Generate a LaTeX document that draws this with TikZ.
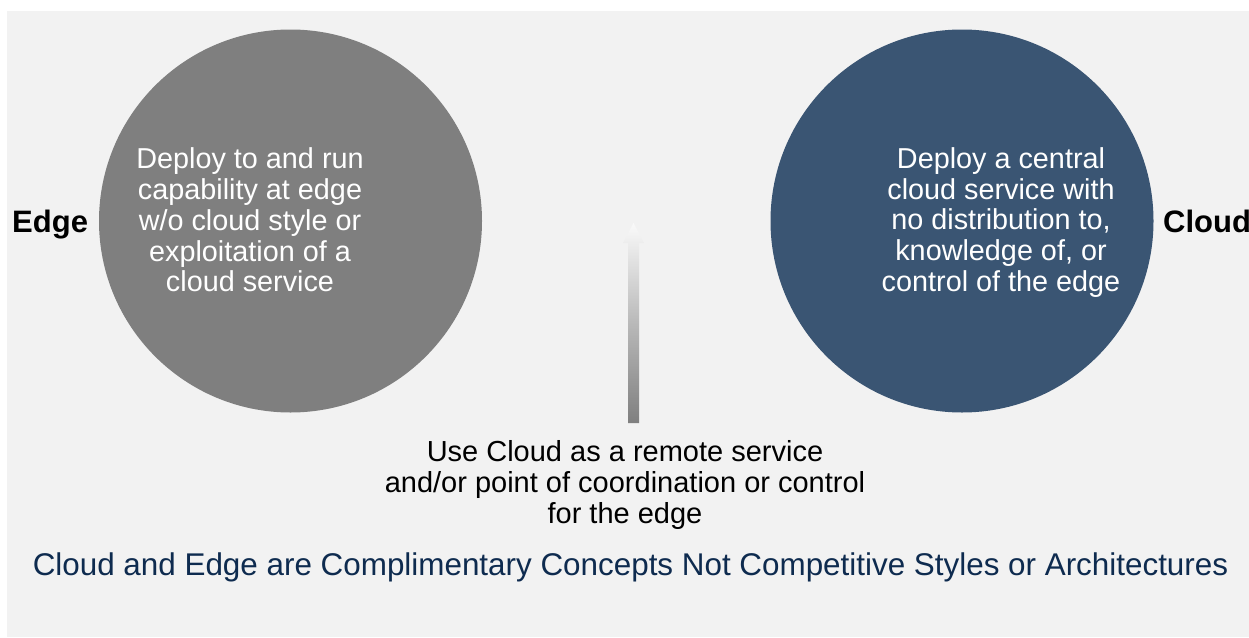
\documentclass[tikz,border=0pt]{standalone}
\usepackage{fontspec}
\setmainfont{Liberation Sans}
\definecolor{bggray}{HTML}{F2F2F2}
\definecolor{edgegray}{HTML}{7F7F7F}
\definecolor{cloudblue}{HTML}{3A5573}
\definecolor{captionblue}{HTML}{0E2B4F}
\tikzset{
  bubble/.style={circle, minimum size=383pt, inner sep=0pt, draw=none},
  bubbletext/.style={text=white, align=center, inner sep=0pt, font=\fontsize{28.8}{30.8}\selectfont},
  sidelabel/.style={inner sep=0pt, font=\fontsize{31}{33}\selectfont\bfseries},
  midtext/.style={align=center, inner sep=0pt, font=\fontsize{29}{31}\selectfont},
  caption/.style={inner sep=0pt, text=captionblue, font=\fontsize{31.4}{33}\selectfont}
}
\begin{document}
\begin{tikzpicture}[x=1pt,y=-1pt]
\useasboundingbox (0,0) rectangle (1249,637);
\fill[white] (0,0) rectangle (1249,637);
\fill[bggray] (7,11) rectangle (1249,637);
% circles
\node[bubble, fill=edgegray] (edgecirc) at (290.5,221) {};
\node[bubble, fill=cloudblue] (cloudcirc) at (962,221) {};
\node[bubbletext] (edgetext) at (250,220) {Deploy to and run\\capability at edge\\w/o cloud style or\\exploitation of a\\cloud service};
\node[bubbletext] (cloudtext) at (1001,222.5) {Deploy a central\\cloud service with\\no distribution to,\\knowledge of, or\\control of the edge};
% side labels
\node[sidelabel, anchor=base west] (edgelabel) at (12,232) {Edge};
\node[sidelabel, anchor=base west] (cloudlabel) at (1163,232) {Cloud};
% gradient arrow
\coordinate (arrbase) at (633.5,423);
\coordinate (arrtip) at (633.5,223);
\shade[top color=bggray!40!white, bottom color=edgegray, middle color=gray!55!white]
  ([xshift=-5.5pt]arrbase) -- ([xshift=5.5pt]arrbase) -- ([xshift=5.5pt,yshift=-20pt]arrtip)
  -- ([xshift=10.5pt,yshift=-20pt]arrtip) -- (arrtip) -- ([xshift=-10.5pt,yshift=-20pt]arrtip)
  -- ([xshift=-5.5pt,yshift=-20pt]arrtip) -- cycle;
% middle text
\node[midtext] (midtext) at (625,484.5) {Use Cloud as a remote service\\and/or point of coordination or control\\for the edge};
% caption
\node[caption, anchor=base] (captext) at (630.5,575) {Cloud and Edge are Complimentary Concepts Not Competitive Styles or Architectures};
\end{tikzpicture}
\end{document}
